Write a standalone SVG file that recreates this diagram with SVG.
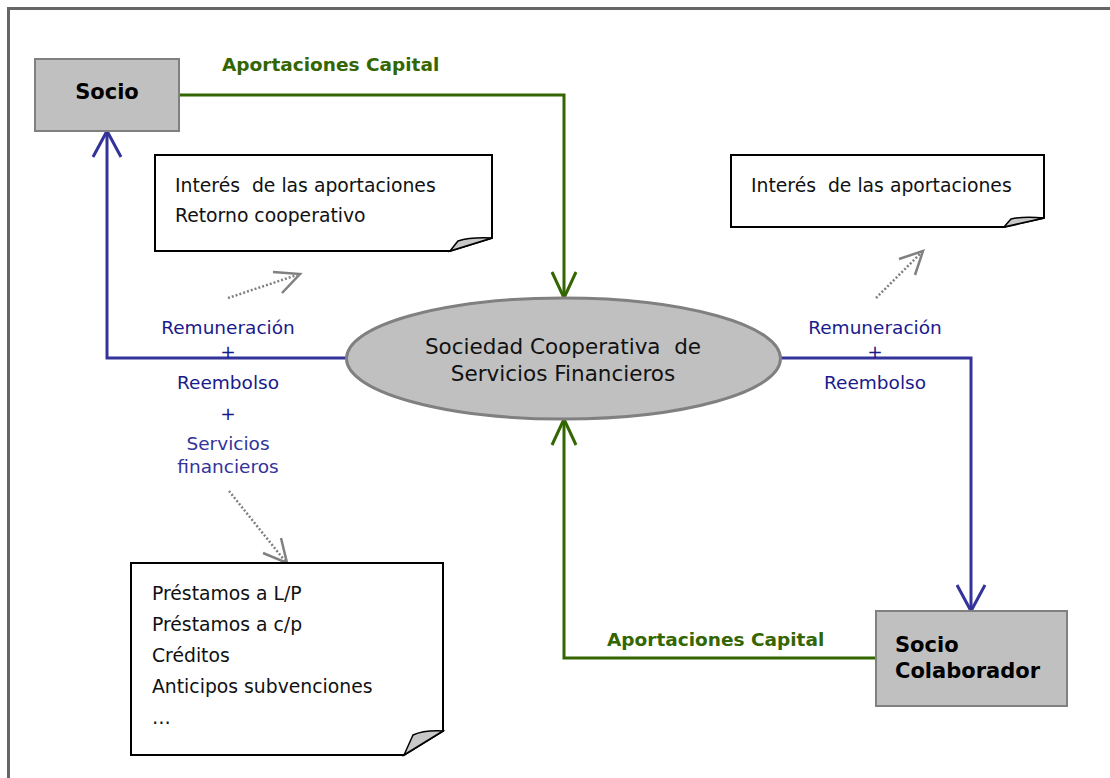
<svg xmlns="http://www.w3.org/2000/svg" width="1110" height="778" viewBox="0 0 1110 778">
<style>
text{font-family:"DejaVu Sans","Verdana",sans-serif;white-space:pre}
.box{fill:#c0c0c0;stroke:#808080;stroke-width:2}
.bold{font-weight:bold;font-size:21px;fill:#000}
.note{fill:#fff;stroke:#000;stroke-width:2}
.curl{fill:#c8c8c8;stroke:#000;stroke-width:1.5}
.nt{font-size:18.8px;fill:#111}
.g{fill:none;stroke:#336600;stroke-width:3}
.b{fill:none;stroke:#333399;stroke-width:3}
.d{fill:none;stroke:#808080;stroke-width:2.5;stroke-dasharray:2 2}
.dh{fill:none;stroke:#808080;stroke-width:2.5}
.gl{font-weight:bold;font-size:18.5px;fill:#336600}
.bl{font-size:18.5px;fill:#1a1a8c;text-anchor:middle}
.bl2{font-size:18.5px;fill:#333399;text-anchor:middle}
</style>
<rect width="1110" height="778" fill="#fff"/>
<rect x="8.5" y="8.5" width="1110" height="790" fill="none" stroke="#666" stroke-width="3"/>

<g id="connectors">
<path class="g" d="M179,95 H564 V298"/>
<path class="g" d="M552,272 L564,298 L576,272"/>
<path class="g" d="M876,658 H564 V419"/>
<path class="g" d="M552,445 L564,419 L576,445"/>
<path class="b" d="M346,358 H107 V131"/>
<path class="b" d="M93,157 L107,131 L121,157"/>
<path class="b" d="M781,358 H971 V611"/>
<path class="b" d="M957,585 L971,611 L985,585"/>
<path class="d" d="M228,298 L297,275"/>
<path class="dh" d="M273,272 L300,274 L282,293"/>
<path class="d" d="M876,298 L921,253"/>
<path class="dh" d="M899,259 L923,251 L915,275"/>
<path class="d" d="M229,491 L285,561"/>
<path class="dh" d="M263,553 L287,563 L281,538"/>
<text class="gl" x="222" y="71">Aportaciones Capital</text>
<text class="gl" x="607" y="646">Aportaciones Capital</text>
<text class="bl" x="228" y="334">Remuneración</text>
<text class="bl" x="228" y="358">+</text>
<text class="bl" x="228" y="389">Reembolso</text>
<text class="bl" x="228" y="420">+</text>
<text class="bl2" x="228" y="450">Servicios</text>
<text class="bl2" x="228" y="473">financieros</text>
<text class="bl" x="875" y="334">Remuneración</text>
<text class="bl" x="875" y="358">+</text>
<text class="bl" x="875" y="389">Reembolso</text>
</g>

<g id="socio">
<rect class="box" x="35" y="59" width="144" height="72"/>
<text class="bold" x="107" y="99" text-anchor="middle">Socio</text>
</g>

<g id="sociedad">
<ellipse cx="563.5" cy="358.5" rx="217" ry="60.5" fill="#c0c0c0" stroke="#808080" stroke-width="3"/>
<text x="563" y="354" font-size="21.5" text-anchor="middle" fill="#111">Sociedad Cooperativa  de</text>
<text x="563" y="381" font-size="21.5" text-anchor="middle" fill="#111">Servicios Financieros</text>
</g>

<g id="socio-colaborador">
<rect class="box" x="876" y="611" width="191" height="95"/>
<text class="bold" x="895" y="652">Socio</text>
<text class="bold" x="895" y="678">Colaborador</text>
</g>

<g id="nota-socio">
<path class="note" d="M155,155 H492 V238 L450,251 H155 Z"/>
<path class="curl" d="M450,251 L458,241 Q470,237 492,238 Z"/>
<text class="nt" x="175" y="192">Interés  de las aportaciones</text>
<text class="nt" x="175" y="222">Retorno cooperativo</text>
</g>

<g id="nota-colaborador">
<path class="note" d="M731,155 H1044 V218 L1004,227 H731 Z"/>
<path class="curl" d="M1004,227 L1011,219 Q1024,216 1044,218 Z"/>
<text class="nt" x="751" y="192">Interés  de las aportaciones</text>
</g>

<g id="nota-servicios">
<path class="note" d="M131,563 H443 V731 L404,755 H131 Z"/>
<path class="curl" d="M404,755 L413,735 Q424,730 443,731 Z"/>
<text class="nt" x="152" y="600">Préstamos a L/P</text>
<text class="nt" x="152" y="631">Préstamos a c/p</text>
<text class="nt" x="152" y="662">Créditos</text>
<text class="nt" x="152" y="693">Anticipos subvenciones</text>
<text class="nt" x="152" y="724">…</text>
</g>
</svg>
